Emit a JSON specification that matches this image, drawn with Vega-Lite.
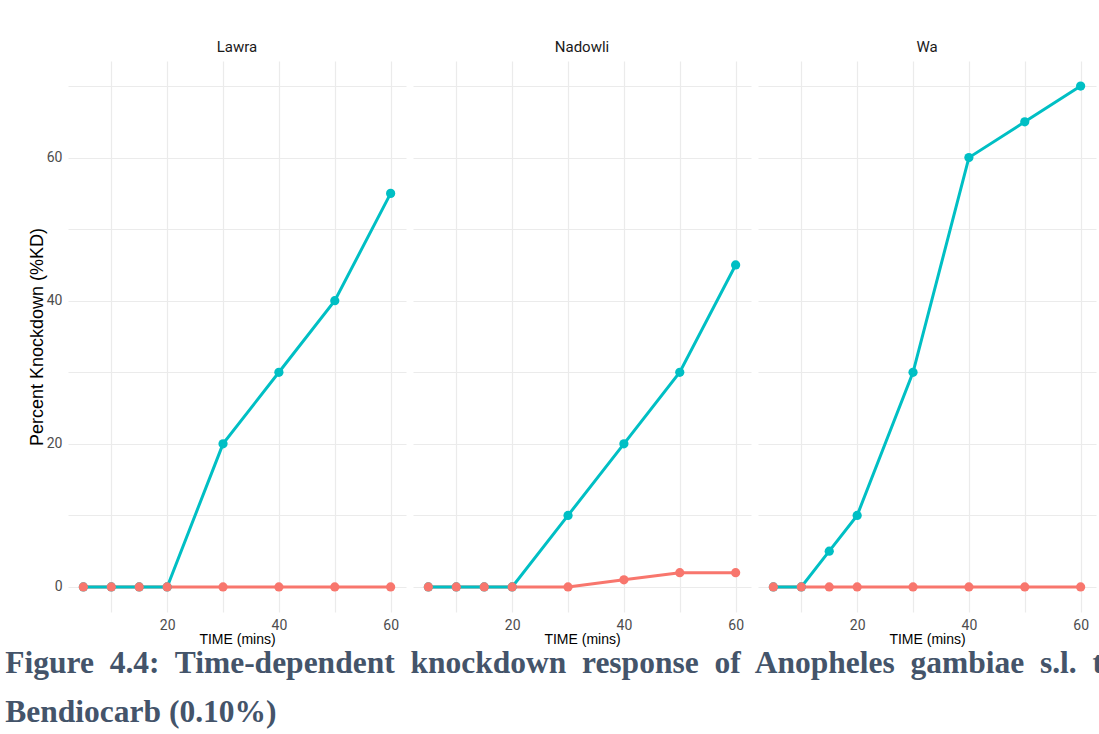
{
  "$schema": "https://vega.github.io/schema/vega-lite/v6.json",
  "background": "white",
  "padding": {"left": 5, "top": 40, "right": 0, "bottom": 0},
  "title": {
    "text": ["Figure\u00a0 4.4:\u00a0 Time-dependent\u00a0 knockdown\u00a0 response\u00a0 of\u00a0 Anopheles\u00a0 gambiae\u00a0 s.l.\u00a0 to", "Bendiocarb (0.10%)"],
    "orient": "bottom",
    "anchor": "start",
    "frame": "bounds",
    "font": "Liberation Serif",
    "fontWeight": "bold",
    "fontSize": 31.5,
    "color": "#44546a",
    "lineHeight": 49,
    "offset": 2,
    "dx": -23
  },
  "data": {
    "values": [
      {"site": "Lawra", "series": "Control", "time": 5, "kd": 0},
      {"site": "Lawra", "series": "Control", "time": 10, "kd": 0},
      {"site": "Lawra", "series": "Control", "time": 15, "kd": 0},
      {"site": "Lawra", "series": "Control", "time": 20, "kd": 0},
      {"site": "Lawra", "series": "Control", "time": 30, "kd": 0},
      {"site": "Lawra", "series": "Control", "time": 40, "kd": 0},
      {"site": "Lawra", "series": "Control", "time": 50, "kd": 0},
      {"site": "Lawra", "series": "Control", "time": 60, "kd": 0},
      {"site": "Nadowli", "series": "Control", "time": 5, "kd": 0},
      {"site": "Nadowli", "series": "Control", "time": 10, "kd": 0},
      {"site": "Nadowli", "series": "Control", "time": 15, "kd": 0},
      {"site": "Nadowli", "series": "Control", "time": 20, "kd": 0},
      {"site": "Nadowli", "series": "Control", "time": 30, "kd": 0},
      {"site": "Nadowli", "series": "Control", "time": 40, "kd": 1},
      {"site": "Nadowli", "series": "Control", "time": 50, "kd": 2},
      {"site": "Nadowli", "series": "Control", "time": 60, "kd": 2},
      {"site": "Wa", "series": "Control", "time": 5, "kd": 0},
      {"site": "Wa", "series": "Control", "time": 10, "kd": 0},
      {"site": "Wa", "series": "Control", "time": 15, "kd": 0},
      {"site": "Wa", "series": "Control", "time": 20, "kd": 0},
      {"site": "Wa", "series": "Control", "time": 30, "kd": 0},
      {"site": "Wa", "series": "Control", "time": 40, "kd": 0},
      {"site": "Wa", "series": "Control", "time": 50, "kd": 0},
      {"site": "Wa", "series": "Control", "time": 60, "kd": 0},
      {"site": "Lawra", "series": "Bendiocarb", "time": 5, "kd": 0},
      {"site": "Lawra", "series": "Bendiocarb", "time": 10, "kd": 0},
      {"site": "Lawra", "series": "Bendiocarb", "time": 15, "kd": 0},
      {"site": "Lawra", "series": "Bendiocarb", "time": 20, "kd": 0},
      {"site": "Lawra", "series": "Bendiocarb", "time": 30, "kd": 20},
      {"site": "Lawra", "series": "Bendiocarb", "time": 40, "kd": 30},
      {"site": "Lawra", "series": "Bendiocarb", "time": 50, "kd": 40},
      {"site": "Lawra", "series": "Bendiocarb", "time": 60, "kd": 55},
      {"site": "Nadowli", "series": "Bendiocarb", "time": 5, "kd": 0},
      {"site": "Nadowli", "series": "Bendiocarb", "time": 10, "kd": 0},
      {"site": "Nadowli", "series": "Bendiocarb", "time": 15, "kd": 0},
      {"site": "Nadowli", "series": "Bendiocarb", "time": 20, "kd": 0},
      {"site": "Nadowli", "series": "Bendiocarb", "time": 30, "kd": 10},
      {"site": "Nadowli", "series": "Bendiocarb", "time": 40, "kd": 20},
      {"site": "Nadowli", "series": "Bendiocarb", "time": 50, "kd": 30},
      {"site": "Nadowli", "series": "Bendiocarb", "time": 60, "kd": 45},
      {"site": "Wa", "series": "Bendiocarb", "time": 5, "kd": 0},
      {"site": "Wa", "series": "Bendiocarb", "time": 10, "kd": 0},
      {"site": "Wa", "series": "Bendiocarb", "time": 15, "kd": 5},
      {"site": "Wa", "series": "Bendiocarb", "time": 20, "kd": 10},
      {"site": "Wa", "series": "Bendiocarb", "time": 30, "kd": 30},
      {"site": "Wa", "series": "Bendiocarb", "time": 40, "kd": 60},
      {"site": "Wa", "series": "Bendiocarb", "time": 50, "kd": 65},
      {"site": "Wa", "series": "Bendiocarb", "time": 60, "kd": 70}
    ]
  },
  "facet": {
    "column": {
      "field": "site",
      "type": "nominal",
      "sort": ["Lawra", "Nadowli", "Wa"],
      "header": {
        "title": null,
        "labelFont": "Roboto, sans-serif",
        "labelFontSize": 15,
        "labelColor": "#1a1a1a",
        "labelPadding": 6
      }
    }
  },
  "spacing": 7,
  "spec": {
    "width": 338,
    "height": 551,
    "layer": [
      {
        "mark": {"type": "line", "strokeWidth": 3},
        "encoding": {
          "x": {"field": "time", "type": "quantitative"},
          "y": {"field": "kd", "type": "quantitative"},
          "color": {"field": "series", "type": "nominal"}
        }
      },
      {
        "mark": {"type": "circle", "size": 85, "opacity": 1},
        "encoding": {
          "x": {"field": "time", "type": "quantitative"},
          "y": {"field": "kd", "type": "quantitative"},
          "color": {"field": "series", "type": "nominal"},
          "order": {"field": "series", "sort": "ascending"}
        }
      }
    ],
    "encoding": {
      "x": {
        "field": "time",
        "type": "quantitative",
        "title": "TIME (mins)",
        "scale": {"domain": [2.25, 62.75], "nice": false, "zero": false},
        "axis": {
          "values": [10, 20, 30, 40, 50, 60],
          "labelExpr": "datum.value % 20 == 0 ? datum.label : ''"
        }
      },
      "y": {
        "field": "kd",
        "type": "quantitative",
        "title": "Percent Knockdown (%KD)",
        "scale": {"domain": [-3.5, 73.5], "nice": false, "zero": false},
        "axis": {
          "values": [0, 10, 20, 30, 40, 50, 60, 70],
          "labelExpr": "datum.value % 20 == 0 ? datum.label : ''"
        }
      },
      "color": {
        "field": "series",
        "type": "nominal",
        "scale": {"domain": ["Control", "Bendiocarb"], "range": ["#F8766D", "#00BFC4"]},
        "legend": null
      }
    }
  },
  "config": {
    "view": {"stroke": null},
    "axis": {
      "domain": false,
      "ticks": false,
      "gridColor": "#ebebeb",
      "gridWidth": 1.2,
      "labelFont": "Roboto, sans-serif",
      "labelFontSize": 14,
      "labelColor": "#4d4d4d",
      "labelPadding": 6,
      "titleFont": "Liberation Sans, Arial, sans-serif",
      "titleFontWeight": "normal",
      "titleColor": "#000000"
    },
    "axisX": {"titlePadding": 0, "titleFontSize": 14},
    "axisY": {"titlePadding": 0, "titleFontSize": 18}
  }
}
